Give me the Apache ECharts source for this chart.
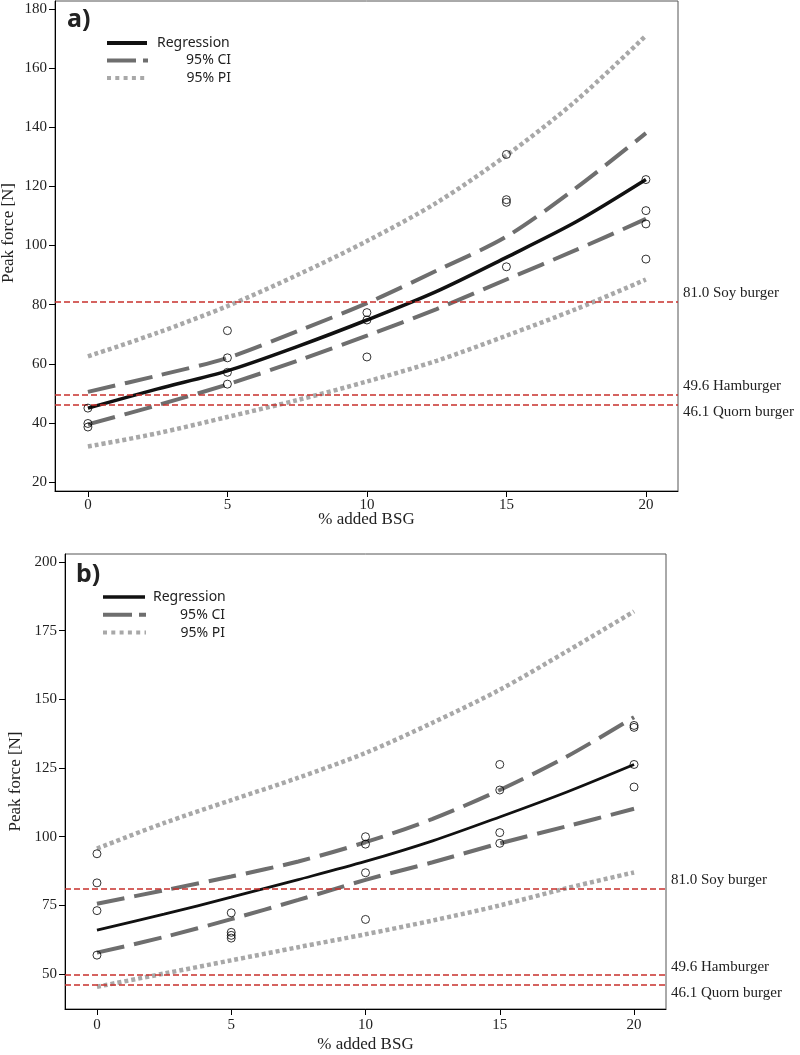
<!DOCTYPE html>
<html><head><meta charset="utf-8">
<script src="https://cdn.jsdelivr.net/npm/echarts@6/dist/echarts.min.js"></script>
<style>html,body{margin:0;padding:0;background:#fff}#c{width:800px;height:1055px}</style>
</head><body><div id="c"></div>
<script>
// ---- data ----
const xCurve = [0, 2.5, 5, 7.5, 10, 12.5, 15, 17.5, 20];
// Panel a
const regA   = [45, 51.5, 57.6, 65.8, 74.8, 84.5, 96, 108, 122.3];
const ciUpA  = [50.5, 56, 62, 71, 80.5, 91.5, 103, 119.5, 138];
const ciLoA  = [39.5, 46, 53, 61, 69.5, 78.5, 88.5, 98.5, 109];
const piUpA  = [62.5, 70.5, 79.5, 90, 101.5, 114.5, 130.5, 149, 171];
const piLoA  = [32, 36.5, 42, 47.7, 54, 61, 69.5, 78.5, 88.5];
const ptsAX  = [0, 0, 0, 5, 5, 5, 5, 10, 10, 10, 15, 15, 15, 15, 20, 20, 20, 20];
const ptsAY  = [45, 39.8, 38.6, 71.2, 62, 57.1, 53.1, 77.3, 74.8, 62.3, 130.8, 115.5, 114.6, 92.8, 122.3, 111.8, 107.3, 95.4];
// Panel b
const regB   = [66, 71.8, 78, 84.4, 91, 98.5, 107.2, 116.3, 126.3];
const ciUpB  = [75.6, 80.5, 85.5, 91, 98, 106.5, 117, 129.2, 143.5];
const ciLoB  = [57.8, 63.5, 70, 77, 84.3, 90.7, 97.6, 103.8, 110.2];
const piUpB  = [95.7, 105, 113.3, 121.5, 130.5, 141.5, 153.5, 167.5, 182];
const piLoB  = [45.4, 50.2, 55, 59.8, 64.5, 69.5, 75, 81.3, 87];
const ptsBX  = [0, 0, 0, 0, 5, 5, 5, 5, 10, 10, 10, 10, 15, 15, 15, 15, 20, 20, 20, 20];
const ptsBY  = [93.8, 83.2, 73.1, 56.9, 72.3, 65.2, 64.1, 63.1, 100, 97.3, 86.9, 69.9, 126.3, 117, 101.5, 97.6, 140.5, 139.8, 126.3, 118.1];
// Reference products
const refValues = [81.0, 49.6, 46.1];
const refNames  = ['Soy burger', 'Hamburger', 'Quorn burger'];
// Ticks
const xTicks  = [0, 5, 10, 15, 20];
const yTicksA = [20, 40, 60, 80, 100, 120, 140, 160, 180];
const yTicksB = [50, 75, 100, 125, 150, 175, 200];
const legendNames = ['Regression', '95% CI', '95% PI'];

// ---- styles ----
const serif = 'Liberation Serif';
const sans = 'Noto Sans';
const cReg = '#111', cCI = '#6e6e6e', cPI = '#a8a8a8', cRef = '#c8302c';

function pairs(xs, ys){ return xs.map((x,i)=>[x, ys[i]]); }

function xAxisCfg(gi, min, max, gap, margin){
  return {
    gridIndex: gi, type: 'value', min: min, max: max,
    axisLine: {show: true, onZero: false, lineStyle: {color: '#000', width: 1}},
    axisTick: {show: true, customValues: xTicks, length: 6, lineStyle: {color: '#000'}},
    axisLabel: {customValues: xTicks, margin: margin, fontFamily: serif, fontSize: 15, color: '#222'},
    splitLine: {show: false},
    name: '% added BSG', nameLocation: 'middle', nameGap: gap, nameMoveOverlap: false,
    nameTextStyle: {fontFamily: serif, fontSize: 17, color: '#222'}
  };
}
function yAxisCfg(gi, min, max, ticks, gap, pad){
  return {
    gridIndex: gi, type: 'value', min: min, max: max,
    axisLine: {show: true, onZero: false, lineStyle: {color: '#000', width: 1}},
    axisTick: {show: true, customValues: ticks, length: 6, lineStyle: {color: '#000'}},
    axisLabel: {customValues: ticks, margin: 8, fontFamily: serif, fontSize: 15, color: '#222'},
    splitLine: {show: false},
    name: 'Peak force [N]', nameLocation: 'middle', nameGap: gap, nameMoveOverlap: false,
    nameTextStyle: {fontFamily: serif, fontSize: 17, color: '#222', padding: pad}
  };
}
function lineS(gi, ys, color, width, dash){
  return {
    type: 'line', xAxisIndex: gi, yAxisIndex: gi, data: pairs(xCurve, ys),
    smooth: 0.3, showSymbol: false, silent: true,
    lineStyle: {color: color, width: width, type: dash, cap: 'butt'}, z: 3
  };
}
function scatterS(gi, xs, ys, labelOffsets){
  return {
    type: 'scatter', xAxisIndex: gi, yAxisIndex: gi, data: pairs(xs, ys),
    symbol: 'circle', symbolSize: 8, silent: true,
    itemStyle: {color: 'rgba(255,255,255,0)', borderColor: '#000', borderWidth: 1}, z: 5,
    markLine: {
      silent: true, symbol: 'none', animation: false,
      lineStyle: {color: cRef, width: 1.5, type: [6, 3]},
      data: refValues.map((v, i) => ({
        yAxis: v,
        label: {show: true, position: 'end', distance: 5, formatter: v.toFixed(1) + ' ' + refNames[i],
          fontFamily: serif, fontSize: 15, color: '#222', offset: [0, labelOffsets[i]]}
      }))
    }
  };
}
function legendGraphics(lx1, lx2, tx, trx, y0, dy, lbl, lblX, lblY, regW){
  const font = '14px "' + sans + '"';
  return [
    {type: 'text', left: lblX, top: lblY, style: {text: lbl, font: 'bold 25px "' + sans + '"', fill: '#222'}},
    {type: 'line', shape: {x1: lx1, y1: y0, x2: lx2, y2: y0}, style: {stroke: cReg, lineWidth: regW}},
    {type: 'text', x: tx, y: y0, style: {text: legendNames[0], font: font, fill: '#222', verticalAlign: 'middle', align: 'left'}},
    {type: 'line', shape: {x1: lx1, y1: y0 + dy, x2: lx2 + 1, y2: y0 + dy}, style: {stroke: cCI, lineWidth: 4, lineDash: [29, 7]}},
    {type: 'text', x: trx, y: y0 + dy, style: {text: legendNames[1], font: font, fill: '#222', verticalAlign: 'middle', align: 'right'}},
    {type: 'line', shape: {x1: lx1, y1: y0 + 2*dy, x2: lx2 + 1, y2: y0 + 2*dy}, style: {stroke: cPI, lineWidth: 4, lineDash: [4, 4.3]}},
    {type: 'text', x: trx, y: y0 + 2*dy, style: {text: legendNames[2], font: font, fill: '#222', verticalAlign: 'middle', align: 'right'}}
  ];
}

const chart = echarts.init(document.getElementById('c'), null, {renderer: 'canvas'});
chart.setOption({
  animation: false,
  backgroundColor: '#fff',
  grid: [
    {left: 55, top: 1, width: 623, height: 490, show: true, borderColor: '#555', borderWidth: 1, backgroundColor: 'transparent', containLabel: false, outerBoundsMode: 'none'},
    {left: 65, top: 554, width: 601, height: 455, show: true, borderColor: '#555', borderWidth: 1, backgroundColor: 'transparent', containLabel: false, outerBoundsMode: 'none'}
  ],
  xAxis: [xAxisCfg(0, -1.18, 21.15, 20, 7), xAxisCfg(1, -1.19, 21.19, 27, 9)],
  yAxis: [yAxisCfg(0, 16.96, 182.7, yTicksA, 38, [0, 0, 0, 26]), yAxisCfg(1, 37.3, 202.9, yTicksB, 41, [0, 0, 0, 0])],
  series: [
    lineS(0, piUpA, cPI, 4.5, [4, 3]),
    lineS(0, piLoA, cPI, 4.5, [4, 3]),
    lineS(0, ciUpA, cCI, 4, [28, 10]),
    lineS(0, ciLoA, cCI, 4, [28, 10]),
    lineS(0, regA, cReg, 3.5, 'solid'),
    scatterS(0, ptsAX, ptsAY, [-9, -8, 7]),
    lineS(1, piUpB, cPI, 4.5, [4, 3]),
    lineS(1, piLoB, cPI, 4.5, [4, 3]),
    lineS(1, ciUpB, cCI, 4, [28, 10]),
    lineS(1, ciLoB, cCI, 4, [28, 10]),
    lineS(1, regB, cReg, 2.8, 'solid'),
    scatterS(1, ptsBX, ptsBY, [-9, -8, 8])
  ],
  graphic: [].concat(
    legendGraphics(107, 147, 157, 231, 43, 17.5, 'a)', 67, 7, 4),
    legendGraphics(103, 145, 153, 225, 597, 17.8, 'b)', 76, 562, 3.5)
  )
});
</script>
</body></html>
